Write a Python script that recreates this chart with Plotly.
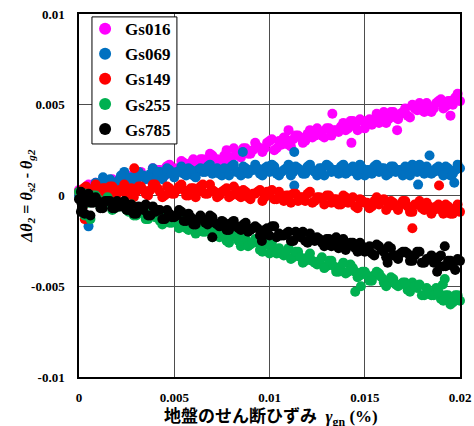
import plotly.graph_objects as go

# shear strain of ground (%) - sampling of the dense bands
GAMMA = [0.0, 0.00025, 0.0005, 0.00075, 0.001, 0.00125, 0.0015, 0.00175, 0.002, 0.00225,
         0.0025, 0.00275, 0.003, 0.00325, 0.0035, 0.00375, 0.004, 0.00425, 0.0045, 0.00475,
         0.005, 0.00525, 0.0055, 0.00575, 0.006, 0.00625, 0.0065, 0.00675, 0.007, 0.00725,
         0.0075, 0.00775, 0.008, 0.00825, 0.0085, 0.00875, 0.009, 0.00925, 0.0095, 0.00975,
         0.01, 0.01025, 0.0105, 0.01075, 0.011, 0.01125, 0.0115, 0.01175, 0.012, 0.01225,
         0.0125, 0.01275, 0.013, 0.01325, 0.0135, 0.01375, 0.014, 0.01425, 0.0145, 0.01475,
         0.015, 0.01525, 0.0155, 0.01575, 0.016, 0.01625, 0.0165, 0.01675, 0.017, 0.01725,
         0.0175, 0.01775, 0.018, 0.01825, 0.0185, 0.01875, 0.019, 0.01925, 0.0195, 0.01975,
         0.02]
GAMMA_MID = [0.000125, 0.000375, 0.000625, 0.000875, 0.001125, 0.001375, 0.001625, 0.001875, 0.002125, 0.002375,
             0.002625, 0.002875, 0.003125, 0.003375, 0.003625, 0.003875, 0.004125, 0.004375, 0.004625, 0.004875,
             0.005125, 0.005375, 0.005625, 0.005875, 0.006125, 0.006375, 0.006625, 0.006875, 0.007125, 0.007375,
             0.007625, 0.007875, 0.008125, 0.008375, 0.008625, 0.008875, 0.009125, 0.009375, 0.009625, 0.009875,
             0.010125, 0.010375, 0.010625, 0.010875, 0.011125, 0.011375, 0.011625, 0.011875, 0.012125, 0.012375,
             0.012625, 0.012875, 0.013125, 0.013375, 0.013625, 0.013875, 0.014125, 0.014375, 0.014625, 0.014875,
             0.015125, 0.015375, 0.015625, 0.015875, 0.016125, 0.016375, 0.016625, 0.016875, 0.017125, 0.017375,
             0.017625, 0.017875, 0.018125, 0.018375, 0.018625, 0.018875, 0.019125, 0.019375, 0.019625, 0.019875]

# delta theta values read at GAMMA, in units of 1e-4
Y016_E4 = [3, 1, 6, 4, 2, 7, 5, 9, 5, 9, 5, 11, 10, 13, 10, 9, 14, 14, 11, 17,
           12, 15, 18, 16, 20, 16, 20, 16, 22, 20, 19, 25, 21, 24, 21, 26, 23, 29, 26, 26,
           30, 25, 30, 32, 28, 31, 33, 29, 34, 32, 37, 33, 37, 33, 36, 38, 36, 41, 38, 42,
           37, 42, 42, 40, 46, 42, 46, 42, 46, 44, 50, 47, 47, 51, 46, 51, 53, 49, 52, 54,
           52]
Y069_E4 = [0, 2, 1, 4, 3, 6, 4, 7, 6, 9, 7, 10, 8, 11, 9, 12, 10, 13, 11, 14,
           10, 13, 12, 15, 11, 14, 13, 16, 12, 15, 11, 14, 16, 13, 11, 15, 14, 17, 12, 15,
           13, 16, 11, 14, 17, 13, 15, 12, 16, 14, 11, 15, 17, 13, 14, 16, 12, 15, 13, 17,
           11, 14, 16, 13, 15, 12, 16, 14, 11, 15, 17, 13, 14, 16, 12, 15, 13, 16, 11, 14,
           15]
Y149_E4 = [2, 4, 1, 3, 0, 4, 2, 5, 1, 3, 0, 4, 2, 5, 1, 3, 6, 2, 0, 4,
           1, 5, 3, 0, 4, 2, 6, 1, 3, -1, 2, 4, 0, 3, -1, 2, -2, 1, 3, -1,
           1, -2, 2, -3, 0, 1, -3, -1, 1, -4, -1, -2, 0, -4, -2, -5, -1, -3, -6, -2,
           -4, -7, -3, -5, -2, -6, -4, -8, -3, -6, -9, -5, -7, -4, -10, -6, -8, -5, -10, -7,
           -9]
Y255_E4 = [2, -2, -4, 0, -2, -6, -1, -8, -6, -5, -8, -5, -11, -8, -13, -9, -12, -14, -10, -15,
           -14, -18, -14, -19, -14, -18, -20, -18, -23, -20, -19, -25, -23, -22, -28, -24, -27, -24, -30, -26,
           -32, -30, -29, -33, -29, -34, -31, -37, -34, -36, -38, -34, -39, -36, -42, -39, -43, -38, -42, -44,
           -42, -47, -44, -43, -48, -47, -46, -50, -48, -52, -48, -51, -55, -51, -55, -51, -57, -55, -60, -55,
           -58]
Y785_E4 = [-2, -4, 0, -4, -3, -7, -3, -7, -3, -6, -8, -5, -10, -7, -5, -11, -9, -8, -13, -10,
           -12, -8, -14, -10, -16, -13, -13, -16, -12, -16, -14, -19, -15, -17, -19, -15, -19, -17, -22, -19,
           -22, -17, -21, -22, -20, -25, -22, -20, -26, -24, -23, -26, -24, -28, -23, -27, -30, -26, -29, -26,
           -31, -28, -33, -28, -31, -28, -33, -35, -31, -32, -36, -31, -37, -35, -33, -37, -33, -39, -36, -41,
           -36]

# delta theta values read at GAMMA_MID, in units of 1e-4
Y016B_E4 = [0, 5, 3, 7, 2, 7, 8, 5, 7, 11, 8, 6, 12, 11, 9, 15, 14, 10, 16, 13,
            15, 19, 14, 18, 15, 20, 18, 23, 20, 19, 22, 19, 26, 22, 26, 23, 25, 27, 24, 29,
            31, 26, 28, 31, 27, 33, 32, 30, 36, 33, 35, 32, 37, 36, 35, 40, 37, 41, 36, 41,
            41, 39, 45, 43, 40, 46, 43, 45, 48, 43, 48, 51, 46, 49, 48, 52, 48, 52, 50, 56]
Y069B_E4 = [-1, 4, 2, 7, 3, 8, 9, 6, 9, 13, 9, 8, 13, 11, 10, 15, 13, 9, 15, 12,
            13, 16, 11, 14, 10, 15, 13, 17, 14, 12, 15, 11, 17, 13, 16, 12, 14, 15, 11, 16,
            17, 12, 13, 15, 11, 16, 14, 12, 17, 13, 15, 11, 16, 14, 12, 17, 13, 16, 11, 15,
            14, 12, 17, 15, 11, 16, 13, 14, 16, 11, 15, 17, 12, 14, 13, 16, 11, 15, 12, 17]
Y149B_E4 = [0, 5, 1, 6, -1, 4, 5, 0, 3, 6, 2, -1, 5, 3, 0, 6, 4, -1, 5, 1,
            3, 6, 0, 4, -1, 5, 1, 6, 2, 0, 3, -1, 5, 0, 3, -1, 1, 2, -3, 2,
            3, -2, -1, 0, -4, 1, -1, -3, 2, -3, -1, -5, 0, -2, -5, 0, -4, -1, -7, -3,
            -4, -6, -1, -3, -8, -3, -6, -5, -3, -9, -5, -3, -8, -6, -8, -5, -10, -6, -10, -5]
Y255B_E4 = [-2, 1, -3, 0, -6, -3, -3, -7, -6, -4, -9, -11, -7, -10, -13, -8, -11, -16, -11, -15,
            -15, -13, -18, -16, -21, -16, -20, -17, -21, -23, -21, -26, -21, -25, -23, -28, -26, -26, -31, -27,
            -26, -32, -32, -31, -35, -31, -34, -36, -32, -37, -36, -40, -36, -39, -42, -37, -42, -40, -45, -42,
            -44, -47, -42, -45, -50, -45, -49, -49, -48, -53, -50, -49, -55, -53, -55, -53, -58, -55, -59, -55]
Y785B_E4 = [-4, -1, -4, -1, -7, -3, -3, -7, -6, -3, -8, -10, -6, -8, -11, -6, -8, -13, -8, -12,
            -11, -9, -14, -12, -16, -11, -15, -11, -15, -17, -15, -19, -14, -18, -16, -20, -18, -18, -22, -18,
            -17, -23, -22, -21, -25, -20, -23, -25, -21, -25, -24, -28, -24, -26, -29, -24, -28, -26, -31, -28,
            -29, -32, -27, -30, -34, -29, -33, -32, -31, -36, -33, -31, -37, -35, -37, -34, -39, -36, -39, -35]

# scattered individual points
X016_EXTRA = [0.0046, 0.0069, 0.0110, 0.0133, 0.0143, 0.0167, 0.0195]
Y016_EXTRA = [0.0016, 0.0022, 0.0036, 0.0045, 0.0029, 0.0036, 0.0044]
X069_EXTRA = [0.0005, 0.00126, 0.0022, 0.0086, 0.0113, 0.0113, 0.0178, 0.0184, 0.0197]
Y069_EXTRA = [-0.0017, 0.0010, 0.0011, 0.0024, 0.0024, 0.00055, 0.0006, 0.0022, 0.0007]
X149_EXTRA = [0.0002, 0.0003, 0.0029, 0.0175, 0.0189]
Y149_EXTRA = [-0.0006, -0.0013, 0.0015, -0.0018, 0.00055]
X255_EXTRA = [0.0003, 0.0006, 0.0145, 0.0148, 0.0191, 0.0192]
Y255_EXTRA = [-0.0011, -0.0013, -0.0053, -0.0050, -0.0049, -0.0046]
X785_EXTRA = [0.0001, 0.0001, 0.0002, 0.0003, 0.0004, 0.0005, 0.0006, 0.0070, 0.0096, 0.0162, 0.0188, 0.0192]
Y785_EXTRA = [0.0002, -0.0009, -0.0006, -0.0010, -0.0003, 0.0001, -0.0011, -0.0023, -0.0025, -0.0037, -0.0042, -0.0028]

SERIES = ["Gs016", "Gs069", "Gs149", "Gs255", "Gs785"]
COLORS = ["#FF00FF", "#0070C0", "#FF0000", "#00B050", "#000000"]
BANDS = [Y016_E4, Y069_E4, Y149_E4, Y255_E4, Y785_E4]
BANDS_MID = [Y016B_E4, Y069B_E4, Y149B_E4, Y255B_E4, Y785B_E4]
EXTRA_X = [X016_EXTRA, X069_EXTRA, X149_EXTRA, X255_EXTRA, X785_EXTRA]
EXTRA_Y = [Y016_EXTRA, Y069_EXTRA, Y149_EXTRA, Y255_EXTRA, Y785_EXTRA]

XTICKS = [0, 0.005, 0.01, 0.015, 0.02]
XTICKTEXT = ["0", "0.005", "0.01", "0.015", "0.02"]
YTICKS = [-0.01, -0.005, 0, 0.005, 0.01]
YTICKTEXT = ["-0.01", "-0.005", "0", "0.005", "0.01"]

SERIF = "Liberation Serif, Times New Roman, serif"

fig = go.Figure()
for name, col, band, band2, ex, ey in zip(SERIES, COLORS, BANDS, BANDS_MID, EXTRA_X, EXTRA_Y):
    xs = list(GAMMA) + list(GAMMA_MID) + list(ex)
    ys = [v * 1e-4 for v in band] + [v * 1e-4 for v in band2] + list(ey)
    fig.add_trace(go.Scatter(
        x=xs, y=ys, mode="markers", name=name,
        marker=dict(color=col, size=10, line=dict(width=0)),
        cliponaxis=False,
    ))

axis_common = dict(
    showline=True, mirror=True, linecolor="black", linewidth=1.5,
    showgrid=True, gridcolor="#4d4d4d", gridwidth=1, zeroline=False,
    ticks="", automargin=False,
    tickfont=dict(family=SERIF, size=13, color="black", weight="bold"),
)
fig.update_xaxes(range=[0, 0.02], tickvals=XTICKS, ticktext=XTICKTEXT,
                 ticklabelstandoff=8, **axis_common)
fig.update_yaxes(range=[-0.01, 0.01], tickvals=YTICKS, ticktext=YTICKTEXT,
                 ticklabelstandoff=10, **axis_common)

fig.update_layout(
    width=474, height=426,
    margin=dict(l=79, r=14, t=14, b=49, autoexpand=False),
    plot_bgcolor="white", paper_bgcolor="white",
    showlegend=True,
    legend=dict(
        x=0.016, y=1.008, xanchor="left", yanchor="top",
        bgcolor="rgba(0,0,0,0)", borderwidth=0,
        font=dict(family=SERIF, size=17, color="black", weight="bold"),
        itemsizing="constant", tracegroupgap=0,
    ),
    shapes=[
        # legend frame
        dict(type="rect", xref="paper", yref="paper",
             x0=0.034, x1=0.257, y0=0.642, y1=0.992,
             line=dict(color="black", width=1), fillcolor="white", layer="above"),
    ],
    annotations=[
        dict(
            xref="paper", yref="paper", x=-0.136, y=0.5, xanchor="center", yanchor="middle",
            textangle=-90, showarrow=False,
            text="<b><i>Δθ</i><sub><i>2</i></sub> = <i>θ</i><sub><i>s2</i></sub> - <i>θ</i><sub><i>g2</i></sub></b>",
            font=dict(family=SERIF, size=16, color="black"),
        ),
        dict(
            xref="paper", yref="paper", x=0.505, y=-0.106, xanchor="center", yanchor="middle",
            showarrow=False,
            text="<b><span style=\"font-family:'Noto Sans CJK JP'\">地盤のせん断ひずみ</span>  <i>γ</i><sub>gn</sub> (%)</b>",
            font=dict(family=SERIF, size=17, color="black"),
        ),
    ],
)

fig.write_html("out.html", config={"displayModeBar": False},
               post_script="document.body.style.margin='0';document.body.style.overflow='hidden';")
